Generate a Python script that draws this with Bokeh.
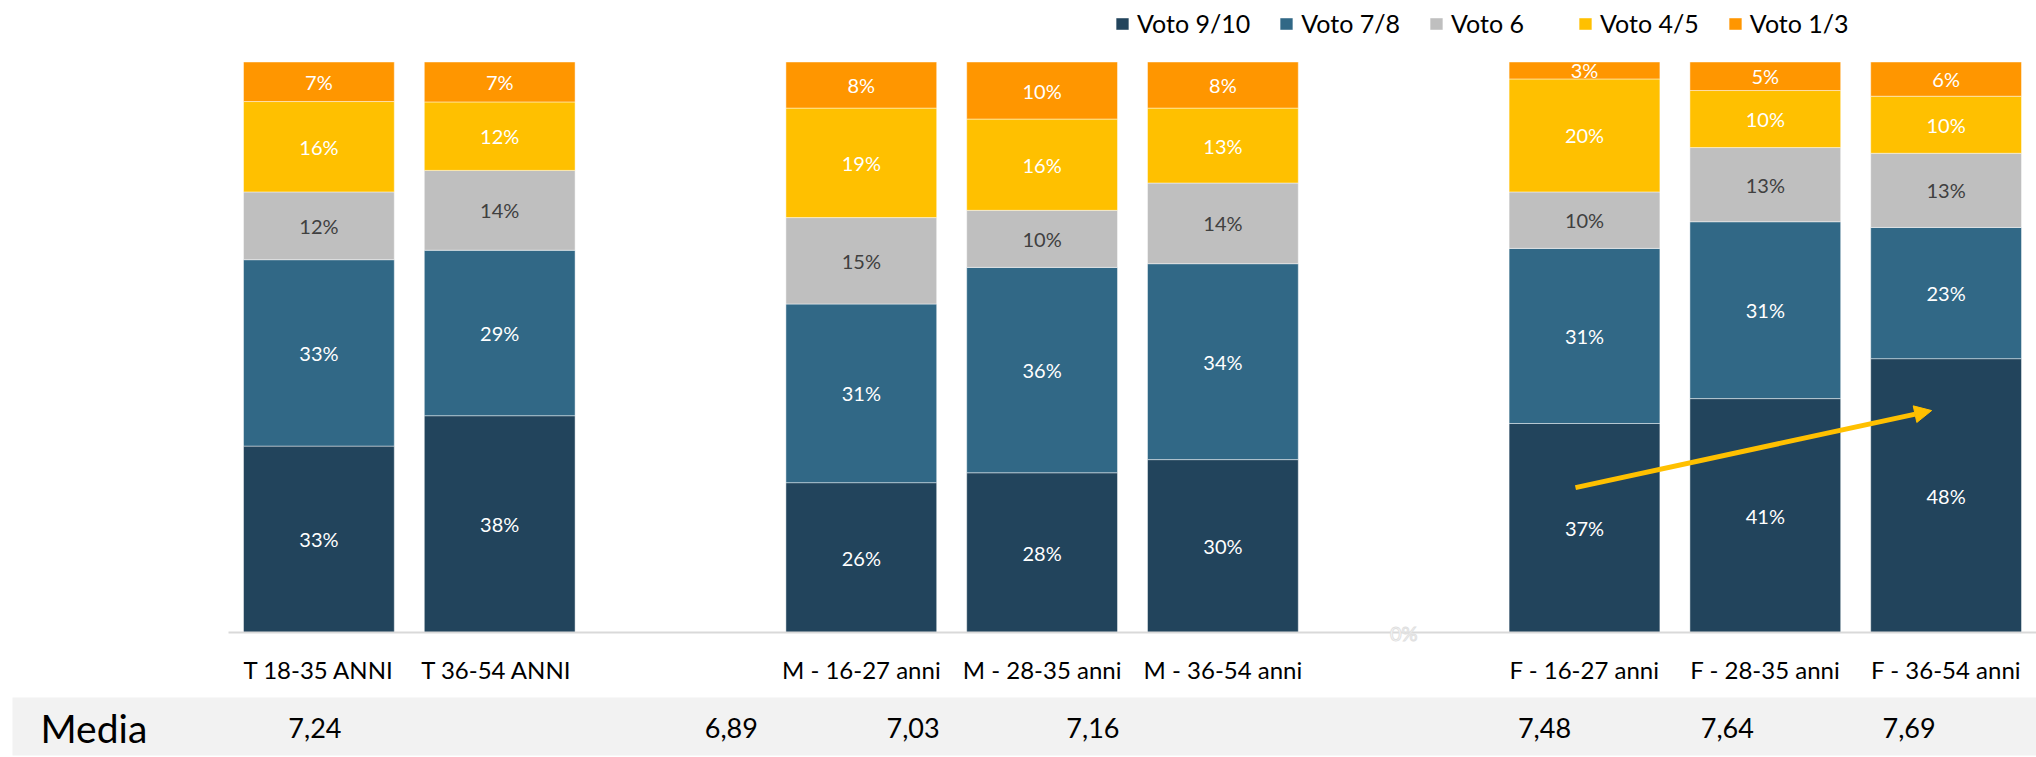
from bokeh.plotting import figure
from bokeh.models import (ColumnDataSource, Legend, LegendItem, Range1d, Arrow, NormalHead)
from bokeh.embed import file_html
from bokeh.resources import INLINE
from bokeh.core.properties import value

# ---------------- data ----------------
categories = ["T 18-35 ANNI", "T 36-54  ANNI", " ",
              "M - 16-27 anni", "M - 28-35 anni", "M - 36-54 anni", "  ",
              "F - 16-27 anni", "F - 28-35 anni", "F - 36-54 anni"]
series = ["Voto 9/10", "Voto 7/8", "Voto 6", "Voto 4/5", "Voto 1/3"]
voto_9_10 = [33, 38, 0, 26, 28, 30, 0, 37, 41, 48]
voto_7_8 = [33, 29, 0, 31, 36, 34, 0, 31, 31, 23]
voto_6 = [12, 14, 0, 15, 10, 14, 0, 10, 13, 13]
voto_4_5 = [16, 12, 0, 19, 16, 13, 0, 20, 10, 10]
voto_1_3 = [7, 7, 0, 8, 10, 8, 0, 3, 5, 6]
zero_label_categories = ["  "]

media_label = "Media"
media_groups = ["T 18-35 ANNI", "M - 16-27 anni", "M - 28-35 anni", "M - 36-54 anni",
                "F - 16-27 anni", "F - 28-35 anni", "F - 36-54 anni"]
media_values = [7.24, 6.89, 7.03, 7.16, 7.48, 7.64, 7.69]

# arrow annotation (category, share of the whole bar)
arrow_from = ("F - 16-27 anni", 0.254)
arrow_to = ("F - 36-54 anni", 0.389)

# ---------------- style / layout ----------------
colors = ["#22445C", "#316886", "#BFBFBF", "#FFC000", "#FF9600"]
label_colors = ["white", "white", "#404040", "white", "white"]
FONT = "Lato"
W, H = 2036, 757
LEFT = 228          # pixel where the category axis starts
BASE = 632          # pixel row of the baseline
TOP = 61.5          # pixel row of 100 %
media_dx = [-4, -130, -129, -130, -40, -38, -37]  # pixel shifts of the table cells

n = len(categories)
px_per_slot = (W - LEFT) / n
px_per_unit = BASE - TOP
x_start = -LEFT / px_per_slot
y_start = -(H - BASE) / px_per_unit
y_end = BASE / px_per_unit


def sx(px):
    return x_start + px / px_per_slot


def sy(py):
    return (BASE - py) / px_per_unit


# ---------------- build ----------------
raw = [voto_9_10, voto_7_8, voto_6, voto_4_5, voto_1_3]
totals = [sum(col) for col in zip(*raw)]
shares = [[(v / t if t else 0.0) for v, t in zip(s, totals)] for s in raw]
xpos = [i + 0.5 for i in range(n)]

src = ColumnDataSource(dict(x=xpos, **{name: sh for name, sh in zip(series, shares)}))

p = figure(x_range=Range1d(x_start, n), y_range=Range1d(y_start, y_end),
           width=W, height=H, output_backend="svg", toolbar_location=None,
           x_axis_location=None, y_axis_location=None,
           min_border_left=0, min_border_right=0, min_border_top=0, min_border_bottom=0)
p.outline_line_color = None
p.xgrid.grid_line_color = None
p.ygrid.grid_line_color = None

# media band
p.quad(left=[sx(12)], right=[n], bottom=[sy(755)], top=[sy(697)],
       fill_color="#F2F2F2", line_color=None)

rs = p.vbar_stack(series, x="x", width=0.834, color=colors, source=src,
                  line_color="white", line_alpha=0.45, line_width=1)

# baseline
p.segment(x0=[0], x1=[n], y0=[0], y1=[0], line_color="#D9D9D9", line_width=2)

# category labels
csrc = ColumnDataSource(dict(x=xpos, y=[0] * n, t=categories))
p.text(x="x", y="y", text="t", source=csrc, y_offset=37,
       text_align="center", text_baseline="middle",
       text_font=value(FONT), text_font_size="24px", text_color="black")

# data labels
lx, ly, lt, lc = [], [], [], []
for si, (vals, sh) in enumerate(zip(raw, shares)):
    for ci in range(n):
        if vals[ci] <= 0:
            continue
        bottom = sum(shares[k][ci] for k in range(si))
        lx.append(xpos[ci])
        ly.append(bottom + sh[ci] / 2)
        lt.append(f"{vals[ci]}%")
        lc.append(label_colors[si])
lsrc = ColumnDataSource(dict(x=lx, y=ly, t=lt, c=lc))
p.text(x="x", y="y", text="t", text_color="c", source=lsrc,
       text_align="center", text_baseline="middle",
       text_font=value(FONT), text_font_size="20px")

zsrc = ColumnDataSource(dict(x=[categories.index(c) + 0.5 for c in zero_label_categories],
                             y=[0] * len(zero_label_categories),
                             t=["0%"] * len(zero_label_categories)))
p.text(x="x", y="y", text="t", source=zsrc, text_color="white",
       text_outline_color="#E0E0E0",
       text_align="center", text_baseline="middle",
       text_font=value(FONT), text_font_size="20px")

# arrow
ax0 = categories.index(arrow_from[0]) + 0.5 - 0.05
ax1 = categories.index(arrow_to[0]) + 0.5 - 0.08
p.add_layout(Arrow(x_start=ax0, y_start=arrow_from[1], x_end=ax1, y_end=arrow_to[1],
                   line_color="#FFC000", line_width=5,
                   end=NormalHead(size=17, fill_color="#FFC000", line_color="#FFC000")))

# legend
legend = Legend(items=[LegendItem(label=s, renderers=[r]) for s, r in zip(series, rs)],
                orientation="horizontal", location=(1114, H - 38),
                glyph_width=16, glyph_height=15, label_standoff=7, spacing=28,
                label_width=98,
                padding=0, margin=0, border_line_color=None,
                background_fill_alpha=0,
                label_text_font=FONT, label_text_font_size="25px",
                label_text_color="black")
p.add_layout(legend)

# media row
msrc = ColumnDataSource(dict(
    x=[categories.index(g) + 0.5 for g in media_groups],
    y=[sy(727)] * len(media_groups),
    t=[f"{v:.2f}".replace(".", ",") for v in media_values],
    dx=media_dx))
p.text(x="x", y="y", text="t", x_offset="dx", source=msrc, text_align="center",
       text_baseline="middle", text_font=value(FONT), text_font_size="27px",
       text_color="black")
p.text(x=[sx(40)], y=[sy(727)], text=[media_label], text_align="left",
       text_baseline="middle", text_font=value(FONT), text_font_size="39px",
       text_color="black")

open("out.html", "w").write(file_html(p, INLINE))
